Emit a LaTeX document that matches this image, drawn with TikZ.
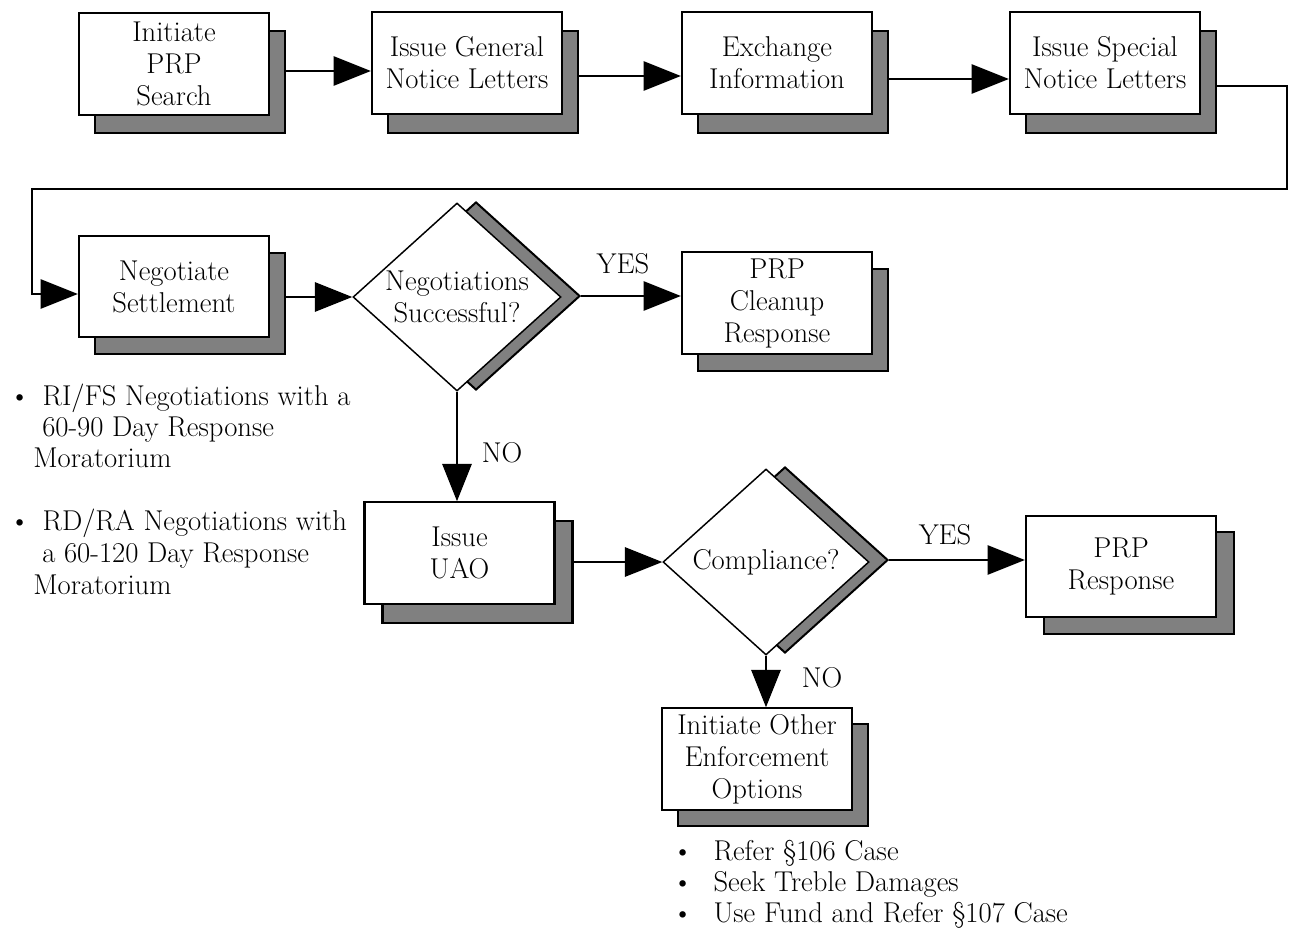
\documentclass[tikz,border=0pt]{standalone}
\usetikzlibrary{shapes.geometric,arrows.meta}
\definecolor{shadowgray}{HTML}{808080}
\newcommand{\bigbul}[1]{\makebox[#1][l]{\textbullet}}
\begin{document}
\begin{tikzpicture}[x=0.75pt,y=-0.75pt,
  every node/.style={font=\fontsize{21.5pt}{24pt}\selectfont},
  box/.style={draw=black, line width=1.7pt, fill=white, minimum width=142.5pt, minimum height=76pt, inner sep=0pt, align=center},
  shadowbox/.style={box, fill=shadowgray},
  dia/.style={diamond, draw=black, line width=1.1pt, fill=white, inner sep=0pt},
  shadowdia/.style={dia, fill=shadowgray, line width=1.5pt},
  conn/.style={line width=1.4pt},
  arr/.style={conn, -{Triangle[length=28pt,width=22pt]}},
  lbl/.style={inner sep=0pt},
  txt/.style={inner sep=0pt, anchor=base west}
]
\useasboundingbox (0,0) rectangle (1293,929);

% ---- row 1 boxes ----
\node[shadowbox] (b1s) at (190,82) {};
\node[box] (b1) at (174,64) {Initiate\\PRP\\Search};
\node[shadowbox] (b2s) at (483,82) {};
\node[box] (b2) at (467,63) {Issue General\\Notice Letters};
\node[shadowbox] (b3s) at (793,82) {};
\node[box] (b3) at (777,63) {Exchange\\Information};
\node[shadowbox] (b4s) at (1121,82) {};
\node[box] (b4) at (1105,63) {Issue Special\\Notice Letters};

% ---- row 2 ----
\node[shadowbox] (b5s) at (190,303.5) {};
\node[box] (b5) at (174,286.5) {Negotiate\\Settlement};
\node[shadowdia, minimum width=156pt, minimum height=141pt] (d1s) at (476,296) {};
\node[dia, minimum width=156pt, minimum height=141pt] (d1) at (457,297) {};
\node[lbl, align=center] (d1t) at (d1.center) {Negotiations\\Successful?};
\node[shadowbox] (pcs) at (793,320) {};
\node[box] (pc) at (777,303) {PRP\\Cleanup\\Response};

% ---- row 3 ----
\node[shadowbox] (uaos) at (477.5,572) {};
\node[box] (uao) at (459.5,553) {Issue\\UAO};
\node[shadowdia, minimum width=154.5pt, minimum height=139.5pt] (d2s) at (785,560) {};
\node[dia, minimum width=154.5pt, minimum height=139.5pt] (d2) at (766,562) {};
\node[lbl] (d2t) at (d2.center) {Compliance?};
\node[shadowbox] (prs) at (1139,583) {};
\node[box] (pr) at (1121,566.5) {PRP\\Response};

% ---- row 4 ----
\node[shadowbox] (enfs) at (773,775) {};
\node[box] (enf) at (757,759) {Initiate Other\\Enforcement\\Options};

% ---- helper coordinates ----
\coordinate (a1y) at (0,71);
\coordinate (a2y) at (0,76);
\coordinate (a3y) at (0,79);
\coordinate (c1) at (1287,86);
\coordinate (c2) at (1287,189);
\coordinate (c3) at (32,189);
\coordinate (c4) at (32,294);

% ---- connectors ----
\draw[arr] (b1s.east |- a1y) -- (b2.west |- a1y);
\draw[arr] (b2s.east |- a2y) -- (b3.west |- a2y);
\draw[arr] (b3s.east |- a3y) -- (b4.west |- a3y);
\draw[arr] (b4s.east |- c1) -- (c1) -- (c2) -- (c3) -- (c4) -- (b5.west |- c4);
\draw[arr] (b5s.east |- d1.west) -- (d1.west);
\draw[arr] (d1s.east) -- (pc.west |- d1s.east);
\draw[arr] (d1.south) -- (d1.south |- uao.north);
\draw[arr] (uaos.east |- d2.west) -- (d2.west);
\draw[arr] (d2s.east) -- (pr.west |- d2s.east);
\draw[arr] (d2.south) -- (d2.south |- enf.north);

% ---- connector labels ----
\node[lbl] (yes1) at (623,264) {YES};
\node[lbl] (no1) at (502,453) {NO};
\node[lbl] (yes2) at (945,535) {YES};
\node[lbl] (no2) at (822,678) {NO};

% ---- left notes ----
\node[txt] (l1a) at (9,405) {\bigbul{25pt}RI/FS Negotiations with a};
\node[txt] (l1b) at (42,436) {60-90 Day Response};
\node[txt] (l1c) at (33,467) {Moratorium};
\node[txt] (l2a) at (9,530) {\bigbul{25pt}RD/RA Negotiations with};
\node[txt] (l2b) at (42,562) {a 60-120 Day Response};
\node[txt] (l2c) at (33,594) {Moratorium};

% ---- bottom notes ----
\node[txt] (bt1) at (672,860) {\bigbul{31pt}Refer \S106 Case};
\node[txt] (bt2) at (672,891) {\bigbul{31pt}Seek Treble Damages};
\node[txt] (bt3) at (672,922) {\bigbul{31pt}Use Fund and Refer \S107 Case};
\end{tikzpicture}
\end{document}
